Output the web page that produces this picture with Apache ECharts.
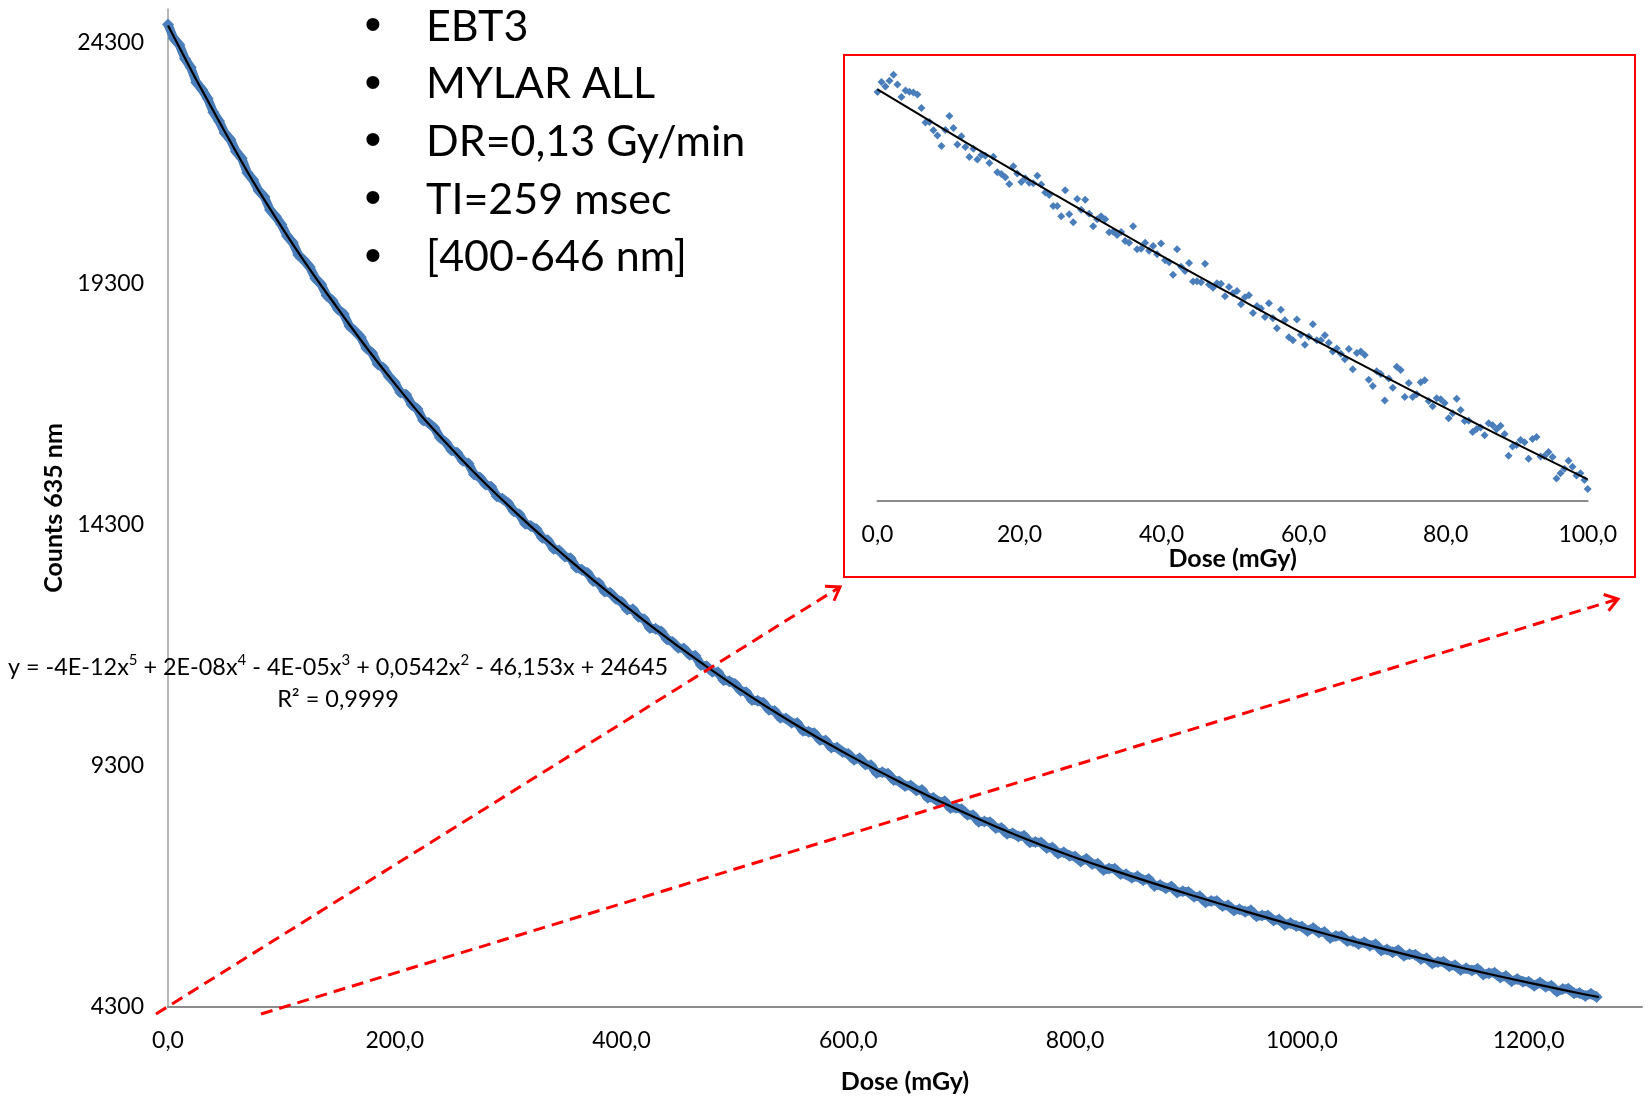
<!DOCTYPE html>
<html>
<head>
<meta charset="utf-8">
<script src="https://cdn.jsdelivr.net/npm/echarts@6/dist/echarts.min.js"></script>
<style>
  html, body { margin: 0; padding: 0; background: #ffffff; }
  #chart { width: 1648px; height: 1097px; }
</style>
</head>
<body>
<div id="chart"></div>
<script>
// ---- Measured film response (EBT3, Mylar), dose in mGy, counts at 635 nm ----
const doseMGy = [
  0,5,10,15,20,25,30,35,40,45,50,55,60,65,70,75,80,85,90,95,
  100,105,110,115,120,125,130,135,140,145,150,155,160,165,170,175,180,185,190,195,
  200,205,210,215,220,225,230,235,240,245,250,255,260,265,270,275,280,285,290,295,
  300,305,310,315,320,325,330,335,340,345,350,355,360,365,370,375,380,385,390,395,
  400,405,410,415,420,425,430,435,440,445,450,455,460,465,470,475,480,485,490,495,
  500,505,510,515,520,525,530,535,540,545,550,555,560,565,570,575,580,585,590,595,
  600,605,610,615,620,625,630,635,640,645,650,655,660,665,670,675,680,685,690,695,
  700,705,710,715,720,725,730,735,740,745,750,755,760,765,770,775,780,785,790,795,
  800,805,810,815,820,825,830,835,840,845,850,855,860,865,870,875,880,885,890,895,
  900,905,910,915,920,925,930,935,940,945,950,955,960,965,970,975,980,985,990,995,
  1000,1005,1010,1015,1020,1025,1030,1035,1040,1045,1050,1055,1060,1065,1070,1075,1080,1085,1090,1095,
  1100,1105,1110,1115,1120,1125,1130,1135,1140,1145,1150,1155,1160,1165,1170,1175,1180,1185,1190,1195,
  1200,1205,1210,1215,1220,1225,1230,1235,1240,1245,1250,1255,1260
];
const counts635 = [
  24680,24391,24259,23969,23791,23475,23331,23144,22859,22676,
  22430,22293,22044,21906,21601,21457,21231,21106,20829,20698,
  20530,20291,20159,19899,19785,19649,19409,19292,19056,18952,
  18770,18673,18423,18315,18192,17966,17867,17634,17553,17373,
  17250,17046,16999,16794,16701,16470,16411,16309,16109,16011,
  15850,15796,15628,15572,15347,15284,15137,15092,14893,14841,
  14750,14581,14517,14325,14278,14208,14033,13980,13807,13766,
  13645,13608,13417,13367,13303,13135,13093,12917,12892,12768,
  12700,12546,12549,12392,12345,12160,12145,12087,11929,11871,
  11750,11734,11604,11584,11395,11368,11255,11244,11079,11059,
  11000,10861,10829,10667,10650,10610,10465,10442,10299,10286,
  10195,10189,10029,10010,9977,9839,9827,9680,9684,9589,
  9550,9426,9457,9329,9312,9155,9169,9138,9008,8979,
  8885,8896,8793,8801,8639,8638,8552,8567,8427,8433,
  8400,8287,8279,8142,8150,8134,8013,8013,7893,7904,
  7835,7853,7717,7721,7711,7596,7607,7483,7510,7437,
  7420,7319,7373,7268,7273,7139,7175,7167,7059,7052,
  6980,7011,6928,6955,6812,6830,6763,6797,6676,6700,
  6685,6588,6597,6475,6499,6499,6393,6408,6304,6329,
  6275,6306,6181,6197,6199,6095,6117,6003,6040,5978,
  5970,5878,5940,5843,5857,5730,5774,5772,5671,5671,
  5605,5645,5569,5604,5470,5495,5436,5476,5362,5394,
  5385,5297,5313,5200,5233,5240,5143,5165,5068,5102,
  5055,5093,4976,5000,5009,4913,4942,4836,4880,4825,
  4825,4740,4810,4720,4741,4621,4672,4677,4583,4589,4530,4576,4507
];

// 5th-order polynomial trend line, sampled along the dose range
const trendDose = [0,50,100,150,200,250,300,350,400,450,500,550,600,650,700,750,800,850,900,950,1000,1050,1100,1150,1200,1250,1262];
const trendCounts = [24660,22460,20485,18780,17230,15880,14705,13655,12680,11780,10955,10205,9530,8915,8355,7845,7400,7010,6640,6285,5950,5635,5340,5065,4805,4560,4505];

// Zoom on the first 100 mGy (every acquisition)
const insetDose = [
  0,0.56,1.12,1.69,2.25,2.81,3.37,3.94,4.50,5.06,5.62,6.19,6.75,7.31,7.87,8.44,9.00,9.56,10.12,10.69,
  11.25,11.81,12.37,12.94,13.50,14.06,14.62,15.18,15.75,16.31,16.87,17.43,18.00,18.56,19.12,19.68,20.25,20.81,21.37,21.93,
  22.50,23.06,23.62,24.18,24.75,25.31,25.87,26.43,27.00,27.56,28.12,28.68,29.24,29.81,30.37,30.93,31.49,32.06,32.62,33.18,
  33.74,34.31,34.87,35.43,35.99,36.56,37.12,37.68,38.24,38.81,39.37,39.93,40.49,41.06,41.62,42.18,42.74,43.30,43.87,44.43,
  44.99,45.55,46.12,46.68,47.24,47.80,48.37,48.93,49.49,50.05,50.62,51.18,51.74,52.30,52.87,53.43,53.99,54.55,55.12,55.68,
  56.24,56.80,57.36,57.93,58.49,59.05,59.61,60.18,60.74,61.30,61.86,62.43,62.99,63.55,64.11,64.67,65.24,65.80,66.36,66.92,
  67.49,68.05,68.61,69.17,69.74,70.30,70.86,71.42,71.99,72.55,73.11,73.67,74.24,74.80,75.36,75.92,76.49,77.05,77.61,78.17,
  78.74,79.30,79.86,80.42,80.99,81.55,82.11,82.67,83.24,83.80,84.36,84.92,85.48,86.05,86.61,87.17,87.73,88.30,88.86,89.42,
  89.98,90.55,91.11,91.67,92.23,92.80,93.36,93.92,94.48,95.05,95.61,96.17,96.73,97.30,97.86,98.42,98.98,99.54,100.00
];
const insetCounts = [
  24618,24724,24675,24738,24802,24696,24565,24632,24621,24611,
  24590,24448,24292,24299,24210,24154,24044,24214,24363,24235,
  24058,24147,24033,23927,24015,23899,23948,23941,23863,23930,
  23764,23746,23711,23640,23828,23750,23661,23700,23654,23647,
  23728,23633,23548,23523,23406,23406,23296,23573,23317,23232,
  23480,23367,23473,23324,23190,23264,23296,23264,23126,23133,
  23098,23130,23034,23016,23190,22945,22952,23016,22931,22981,
  22892,23006,22828,22807,22676,22945,22761,22715,22800,22602,
  22605,22595,22793,22570,22538,22584,22580,22446,22545,22478,
  22502,22361,22435,22456,
  22269,22343,22315,22226,22372,22212,22106,22304,22191,22010,
  21978,22198,22038,21932,22017,22148,21978,21978,22031,21953,
  21858,21890,21836,21776,21886,21670,21844,21858,21822,21560,
  21493,21649,21620,21337,21571,21475,21698,21663,21376,21525,
  21376,21404,21532,21553,21333,21277,21362,21351,21312,21149,
  21202,21358,21238,21121,21124,21004,21036,21050,20968,21096,
  21075,21032,21071,20983,20752,20848,20866,20919,20894,20720,
  20929,20951,20742,20749,20791,20738,20508,20564,20614,20699,
  20635,20540,20564,20493,20398
];
const insetTrendDose = [0,25,50,75,100];
const insetTrendCounts = [24645,23525,22460,21450,20500];

// Axis ticks
const yTicks = [4300,9300,14300,19300,24300];
const xTicks = [0,200,400,600,800,1000,1200];
const insetXTicks = [0,20,40,60,80,100];

// Text blocks
const notes = ['EBT3','MYLAR ALL','DR=0,13 Gy/min','TI=259 msec','[400-646 nm]'];
const fitTerms = [['y = -4E-12x','5'],[' + 2E-08x','4'],[' - 4E-05x','3'],[' + 0,0542x','2'],[' - 46,153x + 24645','']];
const fitR2 = 'R² = 0,9999';

// ---- drawing ----
const FONT = 'Lato, "Open Sans", sans-serif';
const BLUE = '#4a7ebb';
const RED = '#ff0000';
const AXIS_GREY = '#8c8c8c';

const pairs = (xs, ys) => xs.map((x, i) => [x, ys[i]]);
const decimalComma = v => v.toFixed(1).replace('.', ',');

const chart = echarts.init(document.getElementById('chart'), null, { renderer: 'canvas' });

const labelStyle = { color: '#000', fontFamily: FONT, fontSize: 23 };
const nameStyle = { color: '#000', fontFamily: FONT, fontSize: 25, fontWeight: 'bold' };

// Dashed arrows pointing from the low-dose corner to the zoom box
function dashedArrow(x1, y1, x2, y2) {
  const dx = x2 - x1, dy = y2 - y1, len = Math.hypot(dx, dy);
  const ux = dx / len, uy = dy / len;
  const arm = 15, ang = 0.6;
  const rot = (a) => [
    x2 - arm * (ux * Math.cos(a) - uy * Math.sin(a)),
    y2 - arm * (ux * Math.sin(a) + uy * Math.cos(a))
  ];
  return [
    { type: 'line', z: 100, shape: { x1, y1, x2, y2 },
      style: { stroke: RED, lineWidth: 3, lineDash: [12, 7] } },
    { type: 'polyline', z: 100, shape: { points: [rot(ang), [x2, y2], rot(-ang)] },
      style: { stroke: RED, lineWidth: 3, fill: null } }
  ];
}

const graphics = [];
// zoom frame
graphics.push({ type: 'rect', z: 90, shape: { x: 844, y: 55, width: 791, height: 522 },
  style: { stroke: RED, lineWidth: 2, fill: null } });
graphics.push(...dashedArrow(156, 1014, 840, 587));
graphics.push(...dashedArrow(261, 1014, 1618, 599));

// bullet list
notes.forEach((t, i) => {
  const y = 27 + i * 57.6;
  graphics.push({ type: 'text', z: 50, style: { text: '\u2022', x: 373, y, align: 'center', verticalAlign: 'middle',
    font: '48px "Liberation Sans", Arial, sans-serif', fill: '#000' } });
  graphics.push({ type: 'text', z: 50, style: { text: t, x: 426, y, align: 'left', verticalAlign: 'middle',
    font: '43px ' + FONT, fill: '#000' } });
});

// regression equation
const eqText = fitTerms.map(([a, p]) => '{t|' + a + '}' + (p ? '{s|' + p + '}' : '')).join('');
graphics.push({ type: 'text', z: 50, style: {
  text: eqText, x: 338, y: 667, align: 'center', verticalAlign: 'middle',
  rich: {
    t: { fontFamily: FONT, fontSize: 23.4, lineHeight: 29, fill: '#000' },
    s: { fontFamily: FONT, fontSize: 15, lineHeight: 17, verticalAlign: 'top', fill: '#000' }
  }
}});
graphics.push({ type: 'text', z: 50, style: { text: fitR2, x: 338, y: 699, align: 'center', verticalAlign: 'middle',
  font: '23.5px ' + FONT, fill: '#000' } });

const option = {
  animation: false,
  backgroundColor: '#ffffff',
  grid: [
    { left: 168, right: 6, top: 9, bottom: 90, outerBoundsMode: 'none' },
    { left: 877.5, right: 60.3, top: 56, bottom: 596, outerBoundsMode: 'none' }
  ],
  xAxis: [
    {
      type: 'value', gridIndex: 0, min: 0, max: 1300, interval: 200,
      axisLine: { show: true, onZero: false, lineStyle: { color: AXIS_GREY, width: 2 } },
      axisTick: { show: false }, splitLine: { show: false },
      axisLabel: Object.assign({ margin: 22, formatter: v => xTicks.includes(v) ? decimalComma(v) : '' }, labelStyle),
      name: 'Dose (mGy)', nameLocation: 'middle', nameGap: 62, nameTextStyle: nameStyle
    },
    {
      type: 'value', gridIndex: 1, min: 0, max: 100, interval: 20,
      axisLine: { show: true, onZero: false, lineStyle: { color: AXIS_GREY, width: 2 } },
      axisTick: { show: false }, splitLine: { show: false },
      axisLabel: Object.assign({ margin: 22, formatter: v => insetXTicks.includes(v) ? decimalComma(v) : '' }, labelStyle),
      name: 'Dose (mGy)', nameLocation: 'middle', nameGap: 45, nameTextStyle: nameStyle
    }
  ],
  yAxis: [
    {
      type: 'value', gridIndex: 0, min: 4300, max: 25000, interval: 5000,
      axisLine: { show: true, onZero: false, lineStyle: { color: '#a0a0a0', width: 1.5 } },
      axisTick: { show: false }, splitLine: { show: false },
      axisLabel: Object.assign({ margin: 24, formatter: v => yTicks.includes(v) ? String(v) : '' }, labelStyle),
      name: 'Counts 635 nm', nameLocation: 'middle', nameGap: 101, nameTextStyle: nameStyle
    },
    {
      type: 'value', gridIndex: 1, min: 20270, max: 25000, show: false,
      splitLine: { show: false }
    }
  ],
  series: [
    { // dense measurement band
      type: 'line', xAxisIndex: 0, yAxisIndex: 0, data: pairs(doseMGy, counts635),
      showSymbol: false, lineStyle: { color: BLUE, width: 9, opacity: 1 }, z: 2, silent: true
    },
    {
      type: 'scatter', xAxisIndex: 0, yAxisIndex: 0, data: pairs(doseMGy, counts635),
      symbol: 'diamond', symbolSize: 12, itemStyle: { color: BLUE, opacity: 1 }, z: 3, silent: true
    },
    {
      type: 'line', xAxisIndex: 0, yAxisIndex: 0, data: pairs(trendDose, trendCounts),
      smooth: true, showSymbol: false, lineStyle: { color: '#000', width: 2.2 }, z: 5, silent: true
    },
    {
      type: 'scatter', xAxisIndex: 1, yAxisIndex: 1, data: pairs(insetDose, insetCounts), clip: false,
      symbol: 'diamond', symbolSize: 8, itemStyle: { color: BLUE, opacity: 1 }, z: 3, silent: true
    },
    {
      type: 'line', xAxisIndex: 1, yAxisIndex: 1, data: pairs(insetTrendDose, insetTrendCounts),
      smooth: true, showSymbol: false, lineStyle: { color: '#000', width: 2 }, z: 5, silent: true
    }
  ],
  graphic: { elements: graphics }
};

chart.setOption(option);
</script>
</body>
</html>
